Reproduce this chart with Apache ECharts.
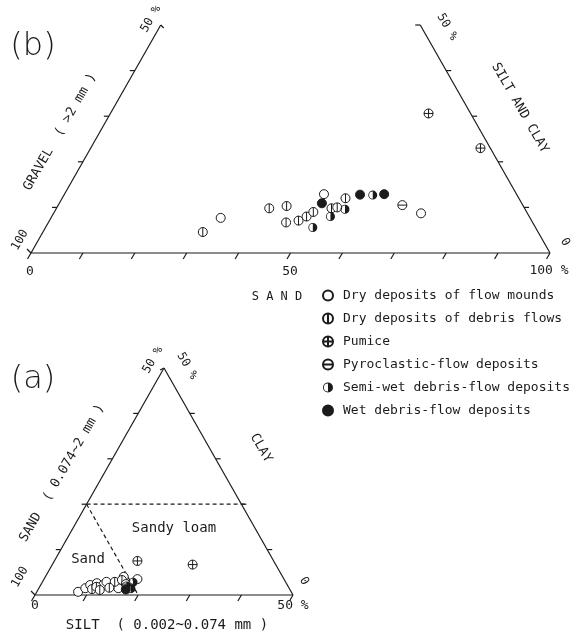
<!DOCTYPE html>
<html>
<head>
<meta charset="utf-8">
<script src="https://cdn.jsdelivr.net/npm/echarts@6/dist/echarts.min.js"></script>
<style>
  html, body { margin: 0; background: #fff; }
  #main { width: 575px; height: 634px; }
</style>
</head>
<body>
<div id="main"></div>
<script>
const INK = '#1b1b1b';
const MONO = '"DejaVu Sans Mono", monospace';

const typeNames = [
    'Dry deposits of flow mounds',
    'Dry deposits of debris flows',
    'Pumice',
    'Pyroclastic-flow deposits',
    'Semi-wet debris-flow deposits',
    'Wet debris-flow deposits'
];

// (b) whole sample: [sand %, silt and clay %]  (gravel = the rest)
const bMounds  = [[32.7, 7.7], [50.0, 12.9], [70.8, 8.7]];
const bDebris  = [[30.8, 4.6], [41.0, 9.8], [44.1, 10.3], [45.8, 6.7], [48.0, 7.1], [49.1, 8.0], [49.9, 9.0], [53.0, 9.8], [54.0, 10.0], [54.6, 12.0]];
const bPumice  = [[61.3, 30.6], [75.1, 23.0]];
const bPyro    = [[66.3, 10.5]];
const bSemiWet = [[51.5, 5.6], [53.7, 8.0], [55.7, 9.6], [59.5, 12.7]];
const bWet     = [[50.6, 10.9], [57.0, 12.8], [61.6, 12.9]];

// (a) fraction finer than 2 mm: [silt %, clay %]  (sand = the rest)
const aMounds  = [[8.0, 0.7], [9.0, 1.5], [9.6, 2.2], [10.7, 2.6], [12.1, 2.2], [12.4, 2.9], [15.4, 1.5], [15.2, 4.0], [18.1, 3.5]];
const aDebris  = [[10.4, 1.3], [11.0, 1.8], [12.0, 1.1], [14.0, 2.9], [15.2, 3.3], [13.6, 1.6]];
const aPumice  = [[16.1, 7.5], [27.2, 6.7]];
const aPyro    = [[16.4, 2.4]];
const aSemiWet = [[16.7, 2.0], [17.9, 1.4], [17.6, 2.8]];
const aWet     = [[17.0, 1.2]];

// axis ticks
const bSandTicks = [0, 10, 20, 30, 40, 50, 60, 70, 80, 90, 100];
const bSideTicks = [10, 20, 30, 40];
const aSiltTicks = [0, 10, 20, 30, 40, 50];
const aSideTicks = [10, 20, 30, 40];
const aClayLimit = 20;   // Sand / Sandy loam boundaries
const aSandLimit = 80;

// ternary -> cartesian (x along the base, y = height in %)
const toB = ([sand, sc]) => [sand + sc / 2, sc];
const toA = ([silt, clay]) => [silt + clay / 2, clay];

const RING = 'M10 0A10 10 0 1 1 10 20A10 10 0 1 1 10 0Z';
const symbols = [
    'circle',
    'path://' + RING + 'M10 0L10 20',
    'path://' + RING + 'M10 0L10 20M0 10L20 10',
    'path://' + RING + 'M0 10L20 10',
    'path://' + RING + 'M10 1.8A8.2 8.2 0 0 0 10 18.2Z',
    'circle'
];
const styles = [
    {color: '#fff', borderColor: INK, borderWidth: 1, opacity: 1},
    {color: '#fff', borderColor: INK, borderWidth: 1, opacity: 1},
    {color: '#fff', borderColor: INK, borderWidth: 1, opacity: 1},
    {color: '#fff', borderColor: INK, borderWidth: 1, opacity: 1},
    {color: INK, borderWidth: 0, opacity: 1},
    {color: INK, borderColor: INK, borderWidth: 1, opacity: 1}
];

let frame = (gi, edges, ticks, dashed) => ({
    type: 'custom',
    xAxisIndex: gi,
    yAxisIndex: gi,
    clip: false,
    silent: true,
    z: 1,
    data: [[0, 0]],
    renderItem: (params, api) => {
        let kids = [];
        let seg = (p, q, dash) => kids.push({
            type: 'line',
            shape: {x1: p[0], y1: p[1], x2: q[0], y2: q[1]},
            style: {stroke: INK, lineWidth: 1.2, lineDash: dash || null}
        });
        edges.forEach(([a, b]) => seg(api.coord(a), api.coord(b)));
        ticks.forEach(([a, dx, dy]) => {
            let p = api.coord(a);
            seg(p, [p[0] + dx, p[1] + dy]);
        });
        (dashed || []).forEach(([a, b]) => seg(api.coord(a), api.coord(b), [4, 3]));
        return {type: 'group', children: kids};
    }
});

// (b) frame
const bEdges = [
    [toB([0, 0]), toB([100, 0])],
    [toB([0, 0]), toB([0, 50])],
    [toB([100, 0]), toB([50, 50])]
];
const bTicks = [].concat(
    bSandTicks.map(s => [toB([s, 0]), -3.5, 6]),
    bSideTicks.map(v => [toB([0, v]), -5, 0]),
    bSideTicks.map(v => [toB([100 - v, v]), 5, 0]),
    [[toB([0, 50]), 3, 3], [toB([50, 50]), -5, 0], [toB([0, 0]), -4, -4]]
);

// (a) frame
const aEdges = [
    [toA([0, 0]), toA([50, 0])],
    [toA([0, 0]), toA([0, 50])],
    [toA([50, 0]), toA([0, 50])]
];
const aTicks = [].concat(
    aSiltTicks.map(s => [toA([s, 0]), -3.5, 6]),
    aSideTicks.map(v => [toA([0, v]), -5, 0]),
    aSideTicks.map(v => [toA([50 - v, v]), 5, 0]),
    [[toA([0, 50]), -4, 2], [toA([0, 0]), -4, -4]]
);
// clay 20 % line (runs a little past the right side) and sand 80 % line
let clayEnd = toA([50 - aClayLimit, aClayLimit]);
const aDashed = [
    [toA([0, aClayLimit]), [clayEnd[0] + 1.2, clayEnd[1]]],
    [toA([0, aClayLimit]), toA([100 - aSandLimit, 0])]
];

const bSets = [bMounds, bDebris, bPumice, bPyro, bSemiWet, bWet];
const aSets = [aMounds, aDebris, aPumice, aPyro, aSemiWet, aWet];

let series = [frame(0, bEdges, bTicks), frame(1, aEdges, aTicks, aDashed)];
typeNames.forEach((name, i) => {
    series.push({
        name, type: 'scatter', xAxisIndex: 0, yAxisIndex: 0, z: 3,
        symbol: symbols[i], symbolSize: 9, itemStyle: styles[i],
        data: bSets[i].map(toB)
    });
    series.push({
        name, type: 'scatter', xAxisIndex: 1, yAxisIndex: 1, z: 3,
        symbol: symbols[i], symbolSize: 9, itemStyle: styles[i],
        data: aSets[i].map(toA)
    });
});

let txt = (text, x, y, size, rot, font) => ({
    type: 'text', x, y, rotation: (rot || 0) * Math.PI / 180,
    style: {
        text, fill: INK, font: font || `${size}px ${MONO}`,
        align: 'center', verticalAlign: 'middle'
    }
});

const HAND = '200 32px "DejaVu Sans", sans-serif';

let option = {
    animation: false,
    backgroundColor: '#fff',
    grid: [
        {left: 31, top: 25, width: 519, height: 228},
        {left: 35, top: 368, width: 258, height: 227}
    ],
    xAxis: [
        {gridIndex: 0, type: 'value', min: 0, max: 100, show: false},
        {gridIndex: 1, type: 'value', min: 0, max: 50, show: false}
    ],
    yAxis: [
        {gridIndex: 0, type: 'value', min: 0, max: 50, show: false},
        {gridIndex: 1, type: 'value', min: 0, max: 50, show: false}
    ],
    legend: {
        orient: 'vertical',
        left: 317,
        top: 284,
        itemWidth: 10,
        itemHeight: 10,
        itemGap: 10,
        selectedMode: false,
        data: typeNames,
        textStyle: {fontFamily: MONO, fontSize: 13, color: INK, padding: [0, 0, 0, 5]}
    },
    graphic: [
        // (b)
        txt('(b)', 33, 47, 32, 0, HAND),
        txt('50 %', 151, 19, 12, 60),
        txt('GRAVEL  ( >2 mm )', 60, 132, 13, 60),
        txt('100', 20, 240, 12, 60),
        txt('0', 30, 272, 13),
        txt('50', 290, 272, 13),
        txt('100 %', 549, 271, 13),
        txt('S A N D', 277, 297, 12),
        txt('0', 565, 242, 12, -60),
        txt('50 %', 447, 27, 12, -60),
        txt('SILT AND CLAY', 520, 108, 13, -60),
        // (a)
        txt('(a)', 33, 380, 32, 0, HAND),
        txt('50 %', 153, 360, 12, 60),
        txt('50 %', 187, 366, 12, -60),
        txt('SAND  ( 0.074~2 mm )', 62, 473, 13, 60),
        txt('100', 20, 577, 12, 60),
        txt('CLAY', 261, 448, 13, -60),
        txt('0', 304, 581, 12, -60),
        txt('Sandy loam', 174, 528, 14),
        txt('Sand', 88, 559, 14),
        txt('0', 35, 606, 13),
        txt('50 %', 293, 606, 13),
        txt('SILT  ( 0.002~0.074 mm )', 167, 625, 14)
    ],
    series
};

let chart = echarts.init(document.getElementById('main'), null, {renderer: 'canvas'});
chart.setOption(option);
</script>
</body>
</html>
